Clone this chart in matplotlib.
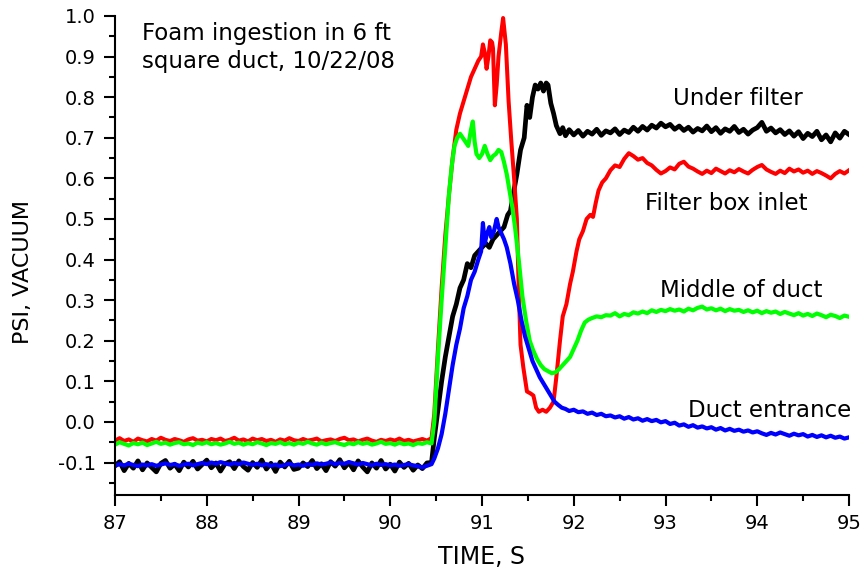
import numpy as np
import matplotlib
matplotlib.use("Agg")
import matplotlib.pyplot as plt
from matplotlib.ticker import MultipleLocator, FormatStrFormatter

plt.rcParams['font.family'] = ['DejaVu Sans']
plt.rcParams['axes.unicode_minus'] = False

# ---------------- data ----------------
# shared baseline time grid 87.00 .. 90.45 (step 0.05) and tail grid 92.40 .. 95.00
t_base = np.round(np.arange(87.0, 90.4501, 0.05), 3)
t_tail = np.round(np.arange(92.40, 95.0001, 0.05), 3)

under_filter_base = [
    -0.108, -0.098, -0.120, -0.102, -0.114, -0.096, -0.118, -0.101, -0.112, -0.123,
    -0.102, -0.095, -0.114, -0.104, -0.120, -0.099, -0.111, -0.097, -0.116, -0.105,
    -0.094, -0.113, -0.101, -0.121, -0.103, -0.098, -0.115, -0.096, -0.110, -0.119,
    -0.100, -0.112, -0.094, -0.116, -0.102, -0.122, -0.099, -0.111, -0.097, -0.117,
    -0.114, -0.101, -0.110, -0.095, -0.115, -0.103, -0.120, -0.098, -0.109, -0.093,
    -0.113, -0.100, -0.118, -0.096, -0.111, -0.123, -0.101, -0.114, -0.095, -0.116,
    -0.104, -0.121, -0.099, -0.112, -0.102, -0.119, -0.106, -0.115, -0.101, -0.100]
under_filter_mid_t = [
    90.48, 90.52, 90.56, 90.60, 90.64, 90.68, 90.72, 90.76, 90.80, 90.84,
    90.88, 90.92, 90.96, 91.00, 91.04, 91.08, 91.12, 91.16, 91.20, 91.24,
    91.28, 91.31, 91.34, 91.38, 91.42, 91.46, 91.49, 91.52, 91.55, 91.58,
    91.61, 91.64, 91.67, 91.70, 91.72, 91.75, 91.78, 91.81, 91.85, 91.88,
    91.91, 91.95, 92.00, 92.05, 92.10, 92.15, 92.20, 92.25, 92.30, 92.35]
under_filter_mid = [
    -0.04, 0.03, 0.10, 0.16, 0.21, 0.26, 0.29, 0.33, 0.35, 0.39,
    0.38, 0.41, 0.42, 0.43, 0.44, 0.43, 0.45, 0.46, 0.47, 0.48,
    0.51, 0.52, 0.56, 0.61, 0.67, 0.70, 0.78, 0.75, 0.80, 0.83,
    0.82, 0.835, 0.815, 0.835, 0.83, 0.785, 0.76, 0.73, 0.71, 0.725,
    0.705, 0.72, 0.707, 0.718, 0.704, 0.716, 0.709, 0.721, 0.706, 0.717]
under_filter_tail = [
    0.712, 0.722, 0.708, 0.719, 0.713, 0.726, 0.716, 0.728, 0.719, 0.731,
    0.724, 0.736, 0.727, 0.733, 0.721, 0.729, 0.718, 0.726, 0.714, 0.723,
    0.717, 0.729, 0.715, 0.725, 0.711, 0.722, 0.716, 0.728, 0.713, 0.721,
    0.709, 0.719, 0.725, 0.738, 0.716, 0.724, 0.712, 0.720, 0.708, 0.717,
    0.704, 0.715, 0.698, 0.711, 0.703, 0.716, 0.695, 0.707, 0.690, 0.712,
    0.699, 0.716, 0.708]

filter_box_base = [
    -0.046, -0.040, -0.047, -0.043, -0.049, -0.041, -0.045, -0.048, -0.042, -0.046,
    -0.039, -0.044, -0.047, -0.042, -0.045, -0.049, -0.043, -0.040, -0.046, -0.044,
    -0.048, -0.042, -0.045, -0.041, -0.047, -0.044, -0.039, -0.046, -0.043, -0.048,
    -0.041, -0.045, -0.042, -0.047, -0.044, -0.049, -0.043, -0.046, -0.040, -0.045,
    -0.047, -0.042, -0.046, -0.044, -0.041, -0.048, -0.045, -0.043, -0.047, -0.042,
    -0.039, -0.045, -0.043, -0.048, -0.044, -0.041, -0.046, -0.049, -0.044, -0.047,
    -0.043, -0.046, -0.041, -0.047, -0.044, -0.048, -0.045, -0.042, -0.046, -0.040]
filter_box_mid_t = [
    90.48, 90.52, 90.56, 90.60, 90.64, 90.68, 90.72, 90.76, 90.80, 90.84,
    90.88, 90.92, 90.96, 90.99, 91.01, 91.03, 91.05, 91.07, 91.09, 91.11,
    91.12, 91.14, 91.16, 91.18, 91.21, 91.23, 91.26, 91.29, 91.32, 91.35,
    91.38, 91.40, 91.42, 91.45, 91.49, 91.53, 91.56, 91.59, 91.62, 91.66,
    91.70, 91.74, 91.78, 91.81, 91.85, 91.88, 91.92, 91.96, 91.99, 92.03,
    92.06, 92.10, 92.14, 92.18, 92.21, 92.24, 92.27, 92.31, 92.35]
filter_box_mid = [
    0.02, 0.18, 0.33, 0.46, 0.56, 0.65, 0.72, 0.76, 0.79, 0.82,
    0.85, 0.87, 0.89, 0.90, 0.93, 0.91, 0.87, 0.90, 0.94, 0.935,
    0.92, 0.78, 0.83, 0.90, 0.96, 0.995, 0.93, 0.79, 0.69, 0.60,
    0.50, 0.33, 0.19, 0.135, 0.075, 0.07, 0.065, 0.035, 0.025, 0.03,
    0.025, 0.035, 0.05, 0.11, 0.20, 0.26, 0.29, 0.34, 0.37, 0.42,
    0.45, 0.47, 0.50, 0.51, 0.505, 0.54, 0.57, 0.59, 0.60]
filter_box_tail = [
    0.620, 0.632, 0.628, 0.648, 0.662, 0.655, 0.646, 0.650, 0.638, 0.632,
    0.621, 0.612, 0.618, 0.627, 0.622, 0.636, 0.641, 0.629, 0.624, 0.617,
    0.611, 0.619, 0.613, 0.624, 0.618, 0.612, 0.620, 0.615, 0.623, 0.617,
    0.612, 0.621, 0.628, 0.633, 0.622, 0.616, 0.611, 0.619, 0.613, 0.624,
    0.617, 0.622, 0.614, 0.619, 0.611, 0.618, 0.613, 0.607, 0.600, 0.611,
    0.618, 0.612, 0.620]

middle_base = [
    -0.056, -0.050, -0.054, -0.058, -0.052, -0.055, -0.051, -0.057, -0.053, -0.049,
    -0.054, -0.051, -0.056, -0.052, -0.050, -0.055, -0.053, -0.057, -0.051, -0.054,
    -0.050, -0.055, -0.052, -0.056, -0.053, -0.049, -0.054, -0.051, -0.056, -0.052,
    -0.055, -0.050, -0.053, -0.057, -0.052, -0.054, -0.050, -0.055, -0.052, -0.056,
    -0.051, -0.054, -0.049, -0.053, -0.056, -0.051, -0.055, -0.052, -0.050, -0.054,
    -0.057, -0.052, -0.055, -0.050, -0.054, -0.051, -0.056, -0.053, -0.049, -0.054,
    -0.052, -0.056, -0.051, -0.055, -0.053, -0.057, -0.052, -0.054, -0.050, -0.053]
middle_mid_t = [
    90.48, 90.52, 90.56, 90.60, 90.64, 90.67, 90.70, 90.73, 90.76, 90.79,
    90.82, 90.85, 90.88, 90.90, 90.92, 90.94, 90.97, 91.00, 91.03, 91.06,
    91.09, 91.12, 91.15, 91.18, 91.21, 91.24, 91.27, 91.30, 91.33, 91.36,
    91.40, 91.44, 91.48, 91.52, 91.56, 91.60, 91.64, 91.68, 91.72, 91.76,
    91.80, 91.84, 91.88, 91.92, 91.96, 92.00, 92.04, 92.08, 92.12, 92.16,
    92.20, 92.25, 92.30, 92.35]
middle_mid = [
    0.00, 0.16, 0.30, 0.43, 0.56, 0.63, 0.68, 0.70, 0.71, 0.70,
    0.69, 0.68, 0.72, 0.74, 0.69, 0.66, 0.65, 0.66, 0.68, 0.66,
    0.645, 0.655, 0.66, 0.67, 0.665, 0.64, 0.61, 0.57, 0.53, 0.48,
    0.40, 0.31, 0.25, 0.20, 0.175, 0.155, 0.14, 0.13, 0.125, 0.12,
    0.122, 0.13, 0.14, 0.15, 0.16, 0.18, 0.20, 0.225, 0.245, 0.252,
    0.256, 0.26, 0.258, 0.263]
middle_tail = [
    0.262, 0.268, 0.260, 0.266, 0.263, 0.270, 0.267, 0.272, 0.268, 0.275,
    0.271, 0.276, 0.273, 0.278, 0.274, 0.277, 0.272, 0.279, 0.275, 0.281,
    0.284, 0.277, 0.280, 0.275, 0.279, 0.273, 0.278, 0.274, 0.276, 0.271,
    0.275, 0.270, 0.274, 0.268, 0.273, 0.269, 0.272, 0.266, 0.271, 0.267,
    0.263, 0.268, 0.262, 0.266, 0.261, 0.267, 0.263, 0.258, 0.264, 0.261,
    0.256, 0.262, 0.259]

entrance_base = [
    -0.108, -0.104, -0.107, -0.103, -0.106, -0.109, -0.105, -0.107, -0.104, -0.108,
    -0.105, -0.102, -0.106, -0.104, -0.108, -0.105, -0.103, -0.107, -0.104, -0.101,
    -0.104, -0.100, -0.103, -0.099, -0.102, -0.105, -0.101, -0.104, -0.100, -0.103,
    -0.106, -0.103, -0.107, -0.104, -0.108, -0.105, -0.109, -0.106, -0.103, -0.107,
    -0.105, -0.108, -0.104, -0.106, -0.102, -0.105, -0.103, -0.100, -0.104, -0.101,
    -0.103, -0.099, -0.102, -0.105, -0.101, -0.104, -0.107, -0.103, -0.106, -0.104,
    -0.107, -0.105, -0.108, -0.106, -0.104, -0.107, -0.109, -0.112, -0.108, -0.104]
entrance_mid_t = [
    90.48, 90.52, 90.56, 90.60, 90.64, 90.68, 90.72, 90.76, 90.80, 90.84,
    90.88, 90.92, 90.96, 90.99, 91.01, 91.03, 91.05, 91.08, 91.10, 91.13,
    91.16, 91.18, 91.21, 91.24, 91.27, 91.31, 91.35, 91.39, 91.43, 91.47,
    91.51, 91.55, 91.59, 91.63, 91.67, 91.71, 91.75, 91.79, 91.83, 91.87,
    91.91, 91.95, 92.00, 92.05, 92.10, 92.15, 92.20, 92.25, 92.30, 92.35]
entrance_mid = [
    -0.090, -0.065, -0.030, 0.020, 0.080, 0.140, 0.190, 0.230, 0.280, 0.310,
    0.350, 0.370, 0.400, 0.420, 0.490, 0.440, 0.460, 0.480, 0.455, 0.470,
    0.500, 0.480, 0.465, 0.450, 0.430, 0.390, 0.340, 0.300, 0.250, 0.210,
    0.180, 0.150, 0.130, 0.110, 0.095, 0.080, 0.065, 0.050, 0.042, 0.035,
    0.032, 0.027, 0.030, 0.024, 0.026, 0.020, 0.023, 0.017, 0.020, 0.014]
entrance_tail = [
    0.016, 0.011, 0.014, 0.008, 0.012, 0.006, 0.009, 0.003, 0.007, 0.002,
    0.005, -0.001, 0.002, -0.005, -0.002, -0.009, -0.006, -0.012, -0.008, -0.014,
    -0.011, -0.016, -0.013, -0.019, -0.015, -0.021, -0.017, -0.022, -0.019, -0.024,
    -0.021, -0.026, -0.023, -0.028, -0.032, -0.027, -0.031, -0.026, -0.030, -0.034,
    -0.029, -0.033, -0.030, -0.036, -0.032, -0.037, -0.033, -0.038, -0.034, -0.039,
    -0.036, -0.041, -0.038]

series_names = ["Under filter", "Filter box inlet", "Middle of duct", "Duct entrance"]
series_colors = ["#000000", "#ff0000", "#00ff00", "#0000ff"]

title_lines = ["Foam ingestion in 6 ft", "square duct, 10/22/08"]
x_label = "TIME, S"
y_label = "PSI, VACUUM"


def assemble(base, mid_t, mid, tail):
    t = np.concatenate([t_base, np.array(mid_t), t_tail])
    v = np.concatenate([np.array(base), np.array(mid), np.array(tail)])
    return t, v


series = [
    assemble(under_filter_base, under_filter_mid_t, under_filter_mid, under_filter_tail),
    assemble(filter_box_base, filter_box_mid_t, filter_box_mid, filter_box_tail),
    assemble(middle_base, middle_mid_t, middle_mid, middle_tail),
    assemble(entrance_base, entrance_mid_t, entrance_mid, entrance_tail),
]

# ---------------- figure ----------------
fig = plt.figure(figsize=(8.64, 5.69), dpi=100)
ax = fig.add_axes([115 / 864, 74 / 569, (849 - 115) / 864, (553 - 74) / 569])

widths = [3.4, 2.9, 3.0, 3.0]
for (t, v), c, lw in zip(series, series_colors, widths):
    ax.plot(t, v, color=c, lw=lw, solid_joinstyle='round')

ax.set_xlim(87, 95)
ax.set_ylim(-0.18, 1.0)

ax.xaxis.set_major_locator(MultipleLocator(1))
ax.xaxis.set_minor_locator(MultipleLocator(0.5))
ax.yaxis.set_major_locator(MultipleLocator(0.1))
ax.yaxis.set_minor_locator(MultipleLocator(0.05))
ax.yaxis.set_major_formatter(FormatStrFormatter('%.1f'))
ax.xaxis.set_major_formatter(FormatStrFormatter('%d'))

for s in ['top', 'right']:
    ax.spines[s].set_visible(False)
for s in ['left', 'bottom']:
    ax.spines[s].set_linewidth(1.5)

ax.tick_params(which='major', direction='out', length=8, width=1.5,
               labelsize=14, pad=6)
ax.tick_params(which='minor', direction='out', length=4, width=1.5)

ax.set_xlabel(x_label, fontsize=17)
ax.xaxis.set_label_coords(0.5, -0.104)
ax.set_ylabel(y_label, fontsize=16)
ax.yaxis.set_label_coords(-0.112, 0.465)

# annotations
ax.text(87.294, 0.941, title_lines[0], fontsize=16.5, ha='left', va='baseline')
ax.text(87.294, 0.872, title_lines[1], fontsize=16.5, ha='left', va='baseline')

label_x = [93.785, 93.66, 93.83, 94.14]
label_y = [0.78, 0.521, 0.307, 0.012]
for name, x, y in zip(series_names, label_x, label_y):
    ax.text(x, y, name, fontsize=16.5, ha='center', va='baseline')

fig.savefig("out.png", dpi=100)
